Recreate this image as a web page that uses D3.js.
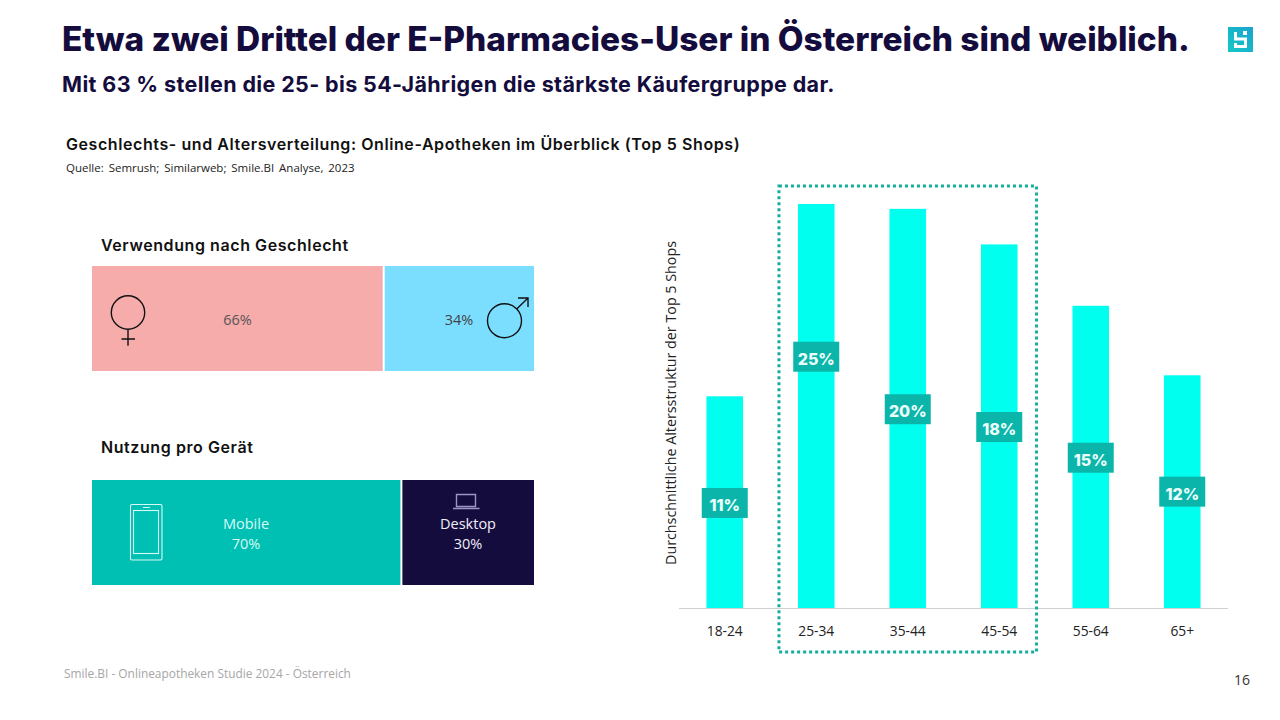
<!DOCTYPE html>
<html>
<head>
<meta charset="utf-8">
<script src="https://cdn.jsdelivr.net/npm/d3@7"></script>
<style>
  html, body { margin: 0; padding: 0; background: #fff; }
  svg { display: block; }
  text { font-family: "Open Sans", sans-serif; }
  .head { font-family: Inter, sans-serif; fill: #150c3e; }
  .sub { font-family: Inter, sans-serif; fill: #111; font-weight: 600; letter-spacing: 0.58px; }
</style>
</head>
<body>
<svg id="chart" width="1280" height="720"></svg>
<script>
// age chart: bar heights as drawn, labels as printed (they do not agree in the original)
const ageGroups = ["18-24", "25-34", "35-44", "45-54", "55-64", "65+"];
const ageBars = [13.1, 25, 24.7, 22.5, 18.7, 14.4];
const ageLabels = ["11%", "25%", "20%", "18%", "15%", "12%"];
const ageLabelLevels = [6.5, 15.55, 12.3, 11.2, 9.3, 7.2];
const highlighted = ["25-34", "35-44", "45-54"];

const genderShares = [66, 34];
const deviceNames = ["Mobile", "Desktop"];
const deviceShares = [70, 30];

const svg = d3.select("#chart");

function addText(x, y, str, cls, size, weight, fill, anchor) {
  const t = svg.append("text").attr("x", x).attr("y", y).text(str)
    .style("font-size", size + "px");
  if (cls) t.attr("class", cls);
  if (weight) t.style("font-weight", weight);
  if (fill) t.style("fill", fill);
  if (anchor) t.attr("text-anchor", anchor);
  return t;
}

// headers
addText(62, 51, "Etwa zwei Drittel der E-Pharmacies-User in Österreich sind weiblich.", "head", 33.4, 800);
addText(62, 92, "Mit 63 % stellen die 25- bis 54-Jährigen die stärkste Käufergruppe dar.", "head", 21.5, 700)
  .style("letter-spacing", "0.37px");
addText(66, 150, "Geschlechts- und Altersverteilung: Online-Apotheken im Überblick (Top 5 Shops)", "sub", 16);
addText(66, 172, "Quelle: Semrush; Similarweb; Smile.BI Analyse, 2023", null, 11.5, null, "#222")
  .style("word-spacing", "1.9px");
addText(101, 251, "Verwendung nach Geschlecht", "sub", 16);
addText(101, 453, "Nutzung pro Gerät", "sub", 16);
addText(64, 678, "Smile.BI - Onlineapotheken  Studie  2024  - Österreich", null, 11.9, null, "#a6a6a6");
addText(1242, 685, "16", null, 14, null, "#333", "middle");

// logo
const defs = svg.append("defs");
const grad = defs.append("linearGradient").attr("id", "logoGrad")
  .attr("x1", 0).attr("y1", 1).attr("x2", 1).attr("y2", 0);
grad.append("stop").attr("offset", 0).attr("stop-color", "#14c8c4");
grad.append("stop").attr("offset", 1).attr("stop-color", "#1aa3d0");
svg.append("rect").attr("x", 1228).attr("y", 27).attr("width", 25).attr("height", 25).attr("fill", "url(#logoGrad)");
svg.append("path").attr("d", "M1235.5 32v7h10v7.5h-10v-3.5").attr("fill", "none")
  .attr("stroke", "#fff").attr("stroke-width", 3);
svg.append("rect").attr("x", 1243).attr("y", 31).attr("width", 4).attr("height", 4).attr("fill", "#fff");

// stacked strips
const stripX = d3.scaleLinear().domain([0, 100]).range([92, 534]);

function strip(y, h, shares, colors) {
  let start = 0;
  shares.forEach((s, i) => {
    svg.append("rect")
      .attr("x", stripX(start) + (i ? 1 : 0))
      .attr("y", y)
      .attr("width", stripX(start + s) - stripX(start) - 1)
      .attr("height", h)
      .attr("fill", colors[i]);
    start += s;
  });
}

strip(266, 105, genderShares, ["#f7acac", "#7bdeff"]);
strip(480, 105, deviceShares, ["#00bfb3", "#150c3e"]);

addText(237.5, 325, genderShares[0] + "%", null, 14.5, null, "#555", "middle");
addText(459, 325, genderShares[1] + "%", null, 14.5, null, "#444", "middle");
addText(246, 529, deviceNames[0], null, 14.5, null, "#d6fbf6", "middle");
addText(246, 549, deviceShares[0] + "%", null, 14.5, null, "#d6fbf6", "middle");
addText(468, 529, deviceNames[1], null, 14.5, null, "#f0eef8", "middle");
addText(468, 549, deviceShares[1] + "%", null, 14.5, null, "#f0eef8", "middle");

// gender icons
const iconLine = { fill: "none", stroke: "#111", "stroke-width": 1.4 };
function styled(sel) { Object.entries(iconLine).forEach(([k, v]) => sel.attr(k, v)); return sel; }
styled(svg.append("circle").attr("cx", 128).attr("cy", 312.5).attr("r", 16.7));
styled(svg.append("path").attr("d", "M128 329.2V345.7M121.5 339H135"));
styled(svg.append("circle").attr("cx", 504.5).attr("cy", 320.7).attr("r", 17));
styled(svg.append("path").attr("d", "M516.7 309L528 298M518 298H528V307"));

// device icons
svg.append("rect").attr("x", 130.5).attr("y", 504.5).attr("width", 31.5).attr("height", 55.5).attr("rx", 1.5)
  .attr("fill", "none").attr("stroke", "#d6fbf6").attr("stroke-width", 1.1);
svg.append("rect").attr("x", 133.5).attr("y", 510.5).attr("width", 25).attr("height", 43)
  .attr("fill", "none").attr("stroke", "#d6fbf6").attr("stroke-width", 1.1);
svg.append("path").attr("d", "M143 507.5H150").attr("stroke", "#d6fbf6").attr("stroke-width", 1);
svg.append("path").attr("d", "M456.5 494.5H475.5V506.5H456.5ZM453 508.5H479.5")
  .attr("fill", "none").attr("stroke", "#9d93c4").attr("stroke-width", 1.4);

// age columns
const x = d3.scaleBand().domain(ageGroups).range([679, 1228]).paddingInner(0.6).paddingOuter(0.3);
const y = d3.scaleLinear().domain([0, 25]).range([608, 204]);

svg.append("g").selectAll("rect").data(ageGroups).join("rect")
  .attr("x", d => x(d))
  .attr("y", (d, i) => y(ageBars[i]))
  .attr("width", x.bandwidth())
  .attr("height", (d, i) => y(0) - y(ageBars[i]))
  .attr("fill", "#00ffee");

const axis = svg.append("g").attr("transform", "translate(0,608)")
  .call(d3.axisBottom(x).tickSize(0).tickPadding(18));
axis.select(".domain").attr("stroke", "#d0d0d0").attr("d", "M679,0.5H1228");
axis.selectAll("text").style("font-size", "13.8px").style("font-family", '"Open Sans", sans-serif').style("fill", "#222");

// value tags
const tags = svg.append("g").selectAll("g").data(ageGroups).join("g")
  .attr("transform", (d, i) => `translate(${x(d) + x.bandwidth() / 2},${y(ageLabelLevels[i])})`);
tags.append("rect").attr("x", -23).attr("y", -15).attr("width", 46).attr("height", 30).attr("fill", "#0bb5aa");
tags.append("text").attr("text-anchor", "middle").attr("y", 8)
  .text((d, i) => ageLabels[i])
  .style("font-family", "Inter, sans-serif").style("font-weight", 800)
  .style("font-size", "16px").style("fill", "#eafffb");

// dotted highlight frame
const frameLeft = x(highlighted[0]) - 19;
const frameRight = x(highlighted[2]) + x.bandwidth() + 19;
svg.append("rect").attr("x", frameLeft).attr("y", 186)
  .attr("width", frameRight - frameLeft).attr("height", 466)
  .attr("fill", "none").attr("stroke", "#14ae9f").attr("stroke-width", 3)
  .attr("stroke-dasharray", "3 3");

// y title
svg.append("text").attr("transform", "translate(676,403) rotate(-90)")
  .attr("text-anchor", "middle").text("Durchschnittliche Altersstruktur der Top 5 Shops")
  .style("font-size", "14.3px").style("fill", "#222");
</script>
</body>
</html>
